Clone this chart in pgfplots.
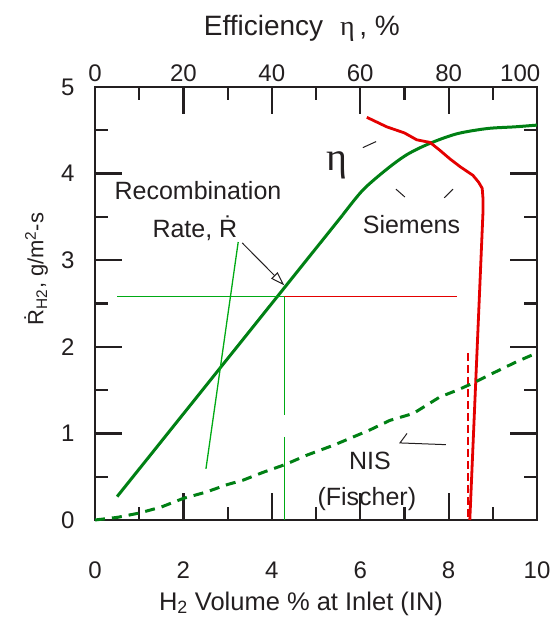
\documentclass[border=0pt]{standalone}
\usepackage{fontspec}
\setmainfont{Liberation Sans}
\newfontfamily\grk{Liberation Serif}
\usepackage{pgfplots}
\definecolor{dg}{RGB}{0,128,20}
\definecolor{lg}{RGB}{0,170,20}
\definecolor{rd}{RGB}{228,0,0}
\definecolor{axc}{RGB}{35,31,32}
\pgfplotsset{compat=1.18}
\usetikzlibrary{arrows.meta}
\begin{document}
\begin{tikzpicture}
\begin{axis}[
  at={(0pt,0pt)}, anchor=south west,
  scale only axis, width=442pt, height=433pt,
  xmin=0, xmax=10, ymin=0, ymax=5,
  xtick={0,2,4,6,8,10}, minor x tick num=1,
  ytick={0,1,2,3,4,5}, minor y tick num=1,
  tick align=inside,
  major tick length=27pt, minor tick length=13pt,
  tick style={line width=2.2pt, draw=axc},
  axis line style={line width=2.5pt, draw=axc},
  tick label style={font=\fontsize{24}{28}\selectfont, text=axc},
  xticklabel style={yshift=-38pt},
  yticklabel style={xshift=-17pt},
  xticklabels={0,2,4,6,8,10},
  yticklabels={0,1,2,3,4,5},
  clip=false,
]
% frame and tick marks drawn explicitly
\addplot[axc, line width=2.5pt] coordinates {(0,0) (10,0) (10,5) (0,5) (0,0)};
\addplot[axc, line width=2.2pt] coordinates {(2,0) (2,0.312)};
\addplot[axc, line width=2.2pt] coordinates {(4,0) (4,0.312)};
\addplot[axc, line width=2.2pt] coordinates {(6,0) (6,0.312)};
\addplot[axc, line width=2.2pt] coordinates {(8,0) (8,0.312)};
\addplot[axc, line width=2.2pt] coordinates {(1,0) (1,0.15)};
\addplot[axc, line width=2.2pt] coordinates {(3,0) (3,0.15)};
\addplot[axc, line width=2.2pt] coordinates {(5,0) (5,0.15)};
\addplot[axc, line width=2.2pt] coordinates {(7,0) (7,0.15)};
\addplot[axc, line width=2.2pt] coordinates {(9,0) (9,0.15)};
\addplot[axc, line width=2.2pt] coordinates {(2,5) (2,4.688)};
\addplot[axc, line width=2.2pt] coordinates {(4,5) (4,4.688)};
\addplot[axc, line width=2.2pt] coordinates {(6,5) (6,4.688)};
\addplot[axc, line width=2.2pt] coordinates {(8,5) (8,4.688)};
\addplot[axc, line width=2.2pt] coordinates {(1,5) (1,4.85)};
\addplot[axc, line width=2.2pt] coordinates {(3,5) (3,4.85)};
\addplot[axc, line width=2.2pt] coordinates {(5,5) (5,4.85)};
\addplot[axc, line width=2.2pt] coordinates {(7,5) (7,4.85)};
\addplot[axc, line width=2.2pt] coordinates {(9,5) (9,4.85)};
\addplot[axc, line width=2.2pt] coordinates {(0,1) (0.611,1)};
\addplot[axc, line width=2.2pt] coordinates {(0,2) (0.611,2)};
\addplot[axc, line width=2.2pt] coordinates {(0,3) (0.611,3)};
\addplot[axc, line width=2.2pt] coordinates {(0,4) (0.611,4)};
\addplot[axc, line width=2.2pt] coordinates {(0,0.5) (0.294,0.5)};
\addplot[axc, line width=2.2pt] coordinates {(0,1.5) (0.294,1.5)};
\addplot[axc, line width=2.2pt] coordinates {(0,2.5) (0.294,2.5)};
\addplot[axc, line width=2.2pt] coordinates {(0,3.5) (0.294,3.5)};
\addplot[axc, line width=2.2pt] coordinates {(0,4.5) (0.294,4.5)};
\addplot[axc, line width=2.2pt] coordinates {(10,1) (9.389,1)};
\addplot[axc, line width=2.2pt] coordinates {(10,2) (9.389,2)};
\addplot[axc, line width=2.2pt] coordinates {(10,3) (9.389,3)};
\addplot[axc, line width=2.2pt] coordinates {(10,4) (9.389,4)};
\addplot[axc, line width=2.2pt] coordinates {(10,0.5) (9.706,0.5)};
\addplot[axc, line width=2.2pt] coordinates {(10,1.5) (9.706,1.5)};
\addplot[axc, line width=2.2pt] coordinates {(10,2.5) (9.706,2.5)};
\addplot[axc, line width=2.2pt] coordinates {(10,3.5) (9.706,3.5)};
\addplot[axc, line width=2.2pt] coordinates {(10,4.5) (9.706,4.5)};
% Recombination rate (Siemens) -- thick green
\addplot[dg, line width=3pt] coordinates {(0.5,0.27) (5.6,3.52)};
\addplot[dg, line width=3pt, smooth, tension=0.5] coordinates {
(5.6,3.52) (6.06,3.81) (6.6,4.05) (7.06,4.22) (7.58,4.35) (8.19,4.46) (8.87,4.52) (9.5,4.54) (10,4.56)};
% Efficiency (red)
\addplot[rd, line width=2.8pt] coordinates {
(6.15,4.65) (6.6,4.54) (7.0,4.47) (7.28,4.39) (7.58,4.36) (7.8,4.27) (8.03,4.17) (8.26,4.08) (8.55,3.98) (8.68,3.90) (8.76,3.83) (8.78,3.70) (8.78,3.58) (8.48,0)};
\addplot[rd, line width=2.8pt, dash pattern=on 8pt off 4pt] coordinates {(8.44,1.93) (8.44,0.03)};
% NIS (Fischer) -- dashed green
\addplot[dg, line width=3pt, dash pattern=on 10pt off 7pt] coordinates {
(0,0) (0.5,0.03) (1.0,0.08) (1.5,0.15) (2.0,0.25) (2.5,0.32) (3.0,0.41) (3.35,0.46) (3.8,0.55) (4.3,0.64) (4.8,0.75) (5.43,0.87) (5.8,0.95) (6.22,1.04) (6.67,1.15) (7.2,1.23) (7.8,1.42) (8.2,1.50) (8.55,1.58) (8.94,1.68) (9.55,1.83) (10,1.93)};
% thin guide lines
\addplot[lg, line width=1.3pt] coordinates {(0.5,2.58) (4.28,2.58)};
\addplot[rd, line width=1.3pt] coordinates {(4.28,2.58) (8.19,2.58)};
\addplot[lg, line width=1.3pt] coordinates {(4.28,2.58) (4.28,1.21)};
\addplot[lg, line width=1.3pt] coordinates {(4.28,0.96) (4.28,0)};
\addplot[lg, line width=1.3pt] coordinates {(3.24,3.21) (2.51,0.59)};
\addplot[axc, line width=1pt, -{Triangle[open, length=14pt, width=9pt]}] coordinates {(3.33,3.20) (4.28,2.71)};
% annotation ticks
\addplot[axc, line width=1pt] coordinates {(6.06,4.30) (6.36,4.37)};
\addplot[axc, line width=1pt] coordinates {(6.81,3.82) (7.01,3.73)};
\addplot[axc, line width=1pt] coordinates {(7.90,3.72) (8.10,3.82)};
\addplot[axc, line width=1pt] coordinates {(7.06,1.00) (6.90,0.89) (7.94,0.87)};
% texts
\node[anchor=base, text=axc, font=\fontsize{25}{29}\selectfont] at (axis cs:2.33,3.70) {Recombination};
\node[anchor=base, text=axc, font=\fontsize{25}{29}\selectfont] at (axis cs:2.26,3.26) {Rate, \.{R}};
\node[anchor=base, text=axc, font=\fontsize{25}{29}\selectfont] at (axis cs:7.16,3.31) {Siemens};
\node[anchor=base, text=axc, font=\fontsize{25}{29}\selectfont] at (axis cs:6.22,0.58) {NIS};
\node[anchor=base, text=axc, font=\fontsize{25}{29}\selectfont] at (axis cs:6.15,0.17) {(Fischer)};
\node[text=axc, font=\fontsize{40}{44}\selectfont\grk] at (axis cs:5.48,4.10) {η};
% top efficiency scale labels
\node[anchor=base, text=axc, font=\fontsize{24}{28}\selectfont] at (axis cs:0,5.06) {0};
\node[anchor=base, text=axc, font=\fontsize{24}{28}\selectfont] at (axis cs:2,5.06) {20};
\node[anchor=base, text=axc, font=\fontsize{24}{28}\selectfont] at (axis cs:4,5.06) {40};
\node[anchor=base, text=axc, font=\fontsize{24}{28}\selectfont] at (axis cs:6,5.06) {60};
\node[anchor=base, text=axc, font=\fontsize{24}{28}\selectfont] at (axis cs:8,5.06) {80};
\node[anchor=base, text=axc, font=\fontsize{24}{28}\selectfont] at (axis cs:9.62,5.06) {100};
% axis titles
\node[anchor=base, text=axc, font=\fontsize{25.5}{29}\selectfont] at (axis cs:4.66,-1.04) {H\textsubscript{2} Volume \% at Inlet (IN)};
\node[anchor=base, text=axc, font=\fontsize{28}{32}\selectfont] at (axis cs:4.68,5.60) {Efficiency\hspace{0.6em}{\grk η}\,, \%};
\node[rotate=90, text=axc, font=\fontsize{22}{26}\selectfont] at (axis cs:-1.33,2.9) {\.{R}\textsubscript{H2}, g/m\textsuperscript{2}-s};
\end{axis}
\path (-95pt,-101pt) rectangle (458pt,520pt);
\end{tikzpicture}
\end{document}
